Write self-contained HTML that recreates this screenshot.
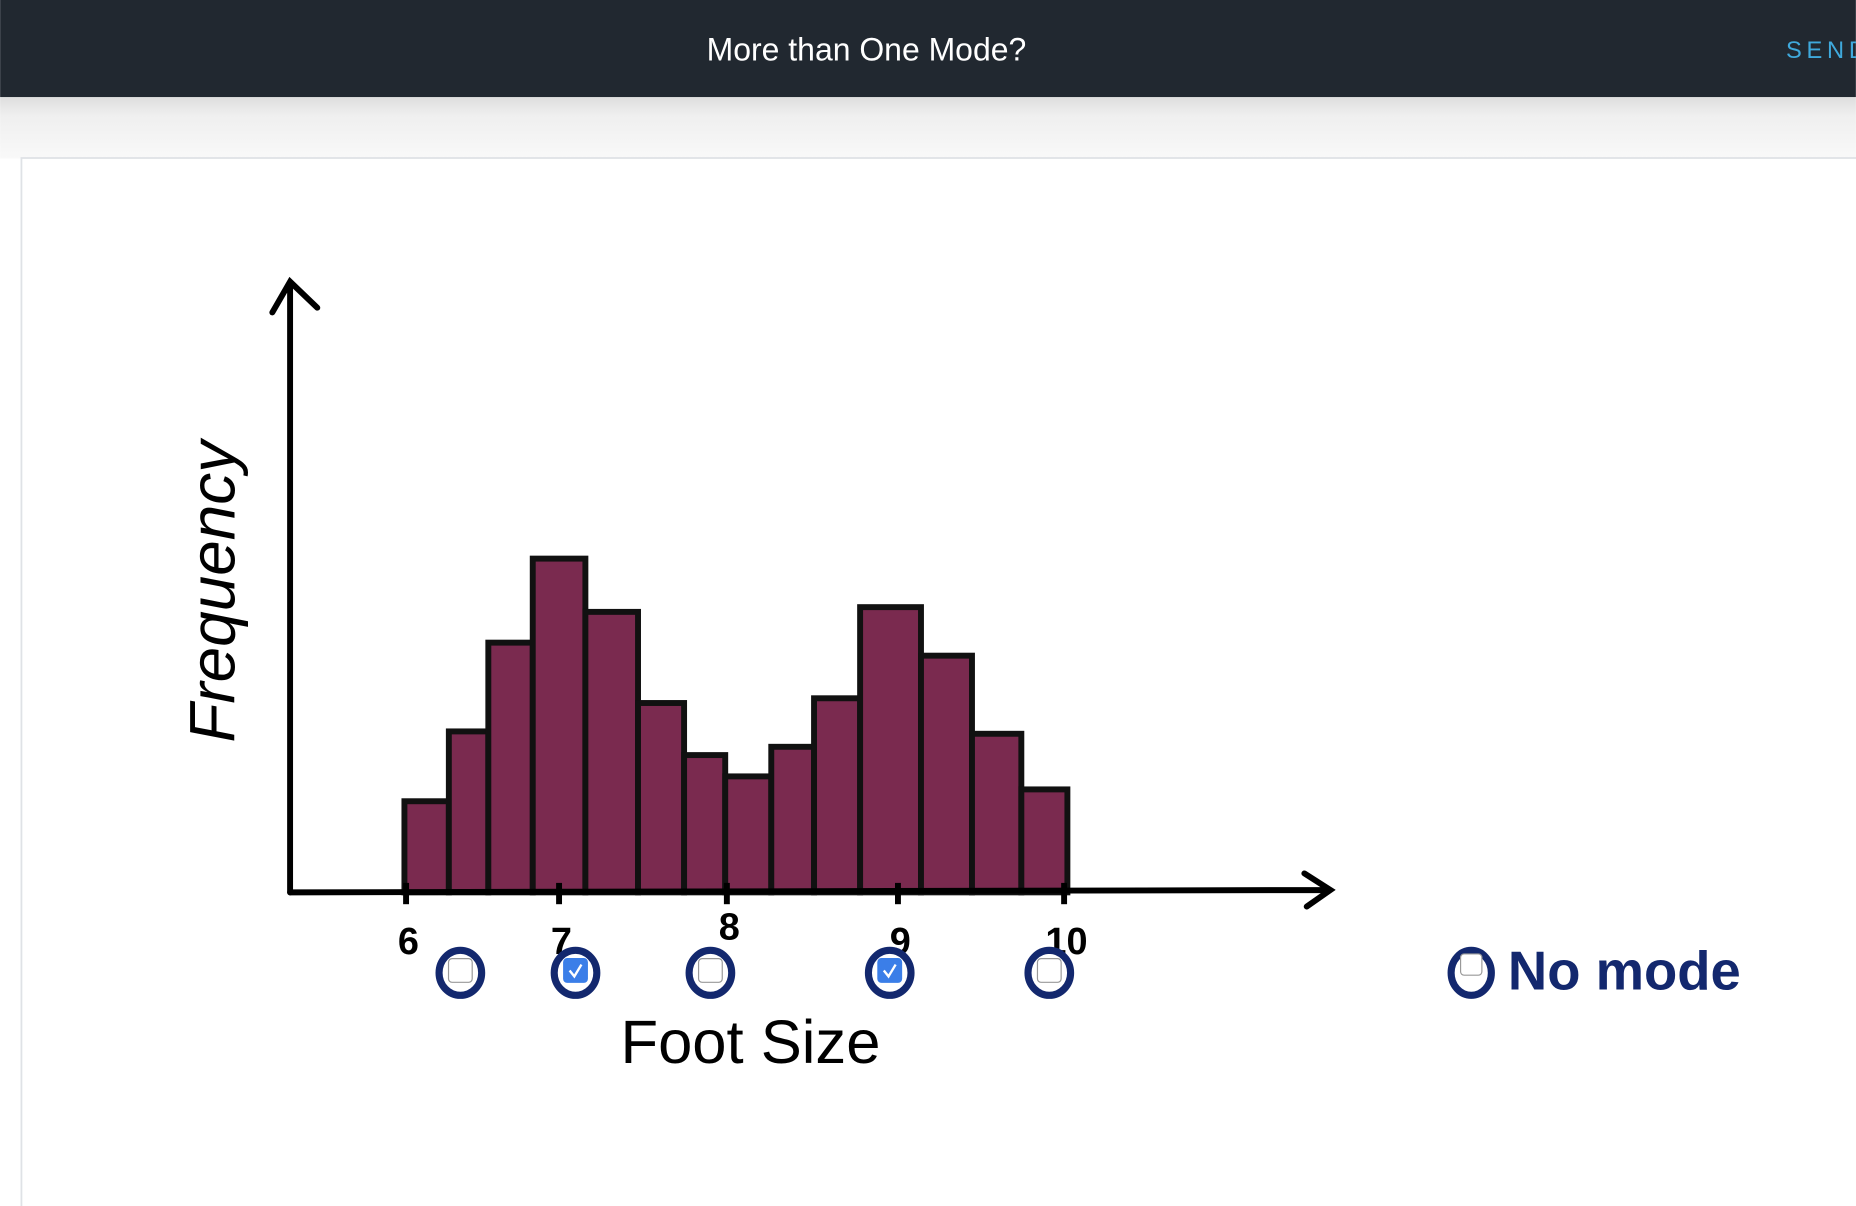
<!DOCTYPE html>
<html><head><meta charset="utf-8">
<style>
html,body{margin:0;padding:0;width:1856px;height:1206px;overflow:hidden;background:#fff;font-family:"Liberation Sans",sans-serif}
svg{display:block}
</style></head>
<body>
<svg id="chart" width="1856" height="1206" viewBox="0 0 1568 1019" xmlns="http://www.w3.org/2000/svg">
<defs>
<linearGradient id="band" x1="0" y1="0" x2="0" y2="1"><stop offset="0" stop-color="#dedede"/><stop offset="0.3" stop-color="#efefef"/><stop offset="1" stop-color="#f9f9f9"/></linearGradient>
</defs>
<rect x="0" y="82" width="1568" height="52" fill="url(#band)"/>
<rect x="0" y="0" width="1568" height="82" fill="#212830"/>
<text x="732" y="51" text-anchor="middle" fill="#ffffff" font-size="27" font-family="Liberation Sans, sans-serif">More than One Mode?</text>
<text x="1509" y="49" fill="#3fa9dc" font-size="20" letter-spacing="4" font-family="Liberation Sans, sans-serif">SEND</text>
<rect x="18" y="133.5" width="1560" height="900" fill="#ffffff" stroke="#dfe2e6" stroke-width="1.5"/>
<g id="bars"></g>
<g id="axes"></g>
<g id="ticks"></g>
<g id="opts"></g>
<text x="0" y="0" transform="translate(198,500) rotate(-90)" text-anchor="middle" font-size="54" font-family="Liberation Sans, sans-serif" fill="#000" font-style="italic">Frequency</text>
<text x="634" y="898" text-anchor="middle" font-size="52" font-family="Liberation Sans, sans-serif" fill="#000">Foot Size</text>
<g>
<ellipse cx="1243" cy="822" rx="17" ry="19" fill="none" stroke="#13286e" stroke-width="6"/>
<rect x="1234" y="806" width="18" height="18" rx="3" fill="#fff" stroke="#999" stroke-width="1"/>
<text x="1274" y="836" font-size="46" font-weight="bold" font-family="Liberation Sans, sans-serif" fill="#13286e">No mode</text>
</g>
</svg>
<script>
const binEdges = [5.99, 6.26, 6.50, 6.77, 7.09, 7.41, 7.69, 7.94, 8.22, 8.48, 8.76, 9.13, 9.44, 9.74, 10.02];
const freqs = [77, 136, 211, 282, 237, 160, 116, 98, 123, 164, 241, 200, 134, 87];
const tickValues = [6, 6.93, 7.95, 8.99, 10];
const tickLabels = ['6', '7', '8', '9', '10'];
const optionValues = [6.33, 7.03, 7.85, 8.94, 9.91];
const optionChecked = [false, true, false, true, false];

const NS = 'http://www.w3.org/2000/svg';
const x = v => 343 + (v - 6) * 139;
const y = f => 754 - f;
function mk(tag, attrs, parent) { const e = document.createElementNS(NS, tag); for (const k in attrs) e.setAttribute(k, attrs[k]); parent.appendChild(e); return e; }

const bars = document.getElementById('bars');
freqs.forEach((f, i) => {
  const r = mk('rect', {x: x(binEdges[i]), y: y(f), width: x(binEdges[i+1]) - x(binEdges[i]), height: f, fill: '#7a2a4f', stroke: '#111', 'stroke-width': 5}, bars);
  
  
});

const axes = document.getElementById('axes');
let a = mk('path', {d: 'M245 754 L245 240 M230 264 L245 238 L268 260', fill: 'none', stroke: '#000', 'stroke-width': 5, 'stroke-linecap': 'round'}, axes);


a = mk('path', {d: 'M245 754 L1124 752 M1102 738 L1124 752 L1104 766', fill: 'none', stroke: '#000', 'stroke-width': 5, 'stroke-linecap': 'round'}, axes);



const ticks = document.getElementById('ticks');
tickValues.forEach((v, i) => {
  const l = mk('line', {x1: x(v), y1: 746, x2: x(v), y2: 764, stroke: '#000', 'stroke-width': 5}, ticks);
  
  
  const t = mk('text', {x: x(v) + 2, y: 806 - (i === 2 ? 12 : 0), 'text-anchor': 'middle', 'font-size': 32, 'font-weight': 'bold', 'font-family': 'Liberation Sans, sans-serif', fill: '#000'}, ticks);
  t.textContent = tickLabels[i];
  
  
});

const opts = document.getElementById('opts');
optionValues.forEach((v, i) => {
  const cx = x(v), cy = 822;
  const g = mk('g', {}, opts);
  
  
  const c = mk('ellipse', {cx: cx, cy: cy, rx: 18, ry: 19, fill: 'none', stroke: '#13286e', 'stroke-width': 6}, g);
  
  
  const b = mk('rect', {x: cx - 10, y: cy - 12, width: 20, height: 20, rx: 3, fill: optionChecked[i] ? '#3b7ee8' : '#fff', stroke: optionChecked[i] ? '#3b7ee8' : '#999', 'stroke-width': 1}, g);
  
  
  if (optionChecked[i]) {
    const p = mk('path', {d: `M${cx-5} ${cy-2} L${cx-1} ${cy+3} L${cx+5} ${cy-7}`, fill: 'none', stroke: '#fff', 'stroke-width': 2}, g);
    
    
  }
});
</script>
</body></html>
